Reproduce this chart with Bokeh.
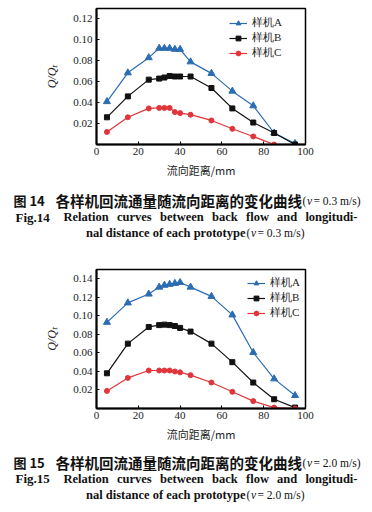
from bokeh.plotting import figure
from bokeh.models import Range1d, FixedTicker, PrintfTickFormatter, Legend, LegendItem, Label
from bokeh.embed import file_html
from bokeh.resources import INLINE

# ---------------- data ----------------
x_pts = [5, 15, 25, 30, 32.5, 35, 37.5, 40, 45, 55, 65, 75, 85, 95]
x_ticks = [0, 20, 40, 60, 80, 100]

a14 = [0.041, 0.0685, 0.083, 0.092, 0.092, 0.092, 0.091, 0.091, 0.079, 0.068, 0.051, 0.037, 0.011, 0.001]
b14 = [0.026, 0.046, 0.062, 0.063, 0.064, 0.0655, 0.065, 0.065, 0.065, 0.054, 0.0345, 0.021, 0.011, 0.000]
c14 = [0.012, 0.026, 0.0345, 0.035, 0.035, 0.035, 0.031, 0.030, 0.0285, 0.023, 0.015, 0.0077, 0.000]
y14_ticks = [0.02, 0.04, 0.06, 0.08, 0.10, 0.12]

a15 = [0.093, 0.114, 0.1235, 0.131, 0.133, 0.134, 0.135, 0.136, 0.131, 0.121, 0.101, 0.0605, 0.032, 0.014]
b15 = [0.038, 0.070, 0.088, 0.090, 0.0905, 0.090, 0.089, 0.087, 0.083, 0.070, 0.050, 0.028, 0.010, 0.001]
c15 = [0.019, 0.033, 0.041, 0.041, 0.041, 0.041, 0.040, 0.039, 0.036, 0.028, 0.018, 0.008, 0.001, 0.000]
y15_ticks = [0.02, 0.04, 0.06, 0.08, 0.10, 0.12, 0.14]

names = ["样机A", "样机B", "样机C"]
x_title = "流向距离/mm"
y_title = "Q/Qₜ"
fig_words = ["Relation", "curves", "between", "back", "flow", "and", "longitudi-"]

BLUE = "#2c6db2"
BLACK = "#111111"
RED = "#e0353b"
SERIF = "Liberation Serif"
CJK = "Noto Sans CJK SC"
W = 372
LEFT = 96
RIGHT = 67
WORD_X = [63, 116.5, 159.5, 211.5, 245.5, 276.5]


def chart(height, top, ymax, yticks, ys, leg_x, leg_y, leg_spacing):
    p = figure(width=W, height=height, output_backend="svg", toolbar_location=None,
               x_range=Range1d(0, 100), y_range=Range1d(0, ymax),
               min_border_left=LEFT, min_border_right=RIGHT, min_border_top=top,
               min_border_bottom=height - top - 139)
    p.xgrid.visible = False
    p.ygrid.visible = False
    p.outline_line_color = "black"
    p.outline_line_width = 1.5
    p.background_fill_color = None
    p.border_fill_color = None
    for ax in (p.xaxis[0], p.yaxis[0]):
        ax.axis_line_width = 2
        ax.axis_line_color = "black"
        ax.major_tick_in = 3
        ax.major_tick_out = 0
        ax.minor_tick_in = 0
        ax.minor_tick_out = 0
        ax.major_tick_line_color = "black"
        ax.major_label_text_font = SERIF
        ax.major_label_text_font_size = "11px"
        ax.major_label_text_color = "#222222"
        ax.axis_label_text_font_style = "normal"
        ax.axis_label_text_color = "#222222"
    p.xaxis.ticker = FixedTicker(ticks=x_ticks)
    p.yaxis.ticker = FixedTicker(ticks=yticks)
    p.yaxis.formatter = PrintfTickFormatter(format="%.2f")
    p.xaxis.major_label_standoff = 3
    p.yaxis.major_label_standoff = 4
    p.xaxis.axis_label = x_title
    p.xaxis.axis_label_text_font = CJK
    p.xaxis.axis_label_text_font_size = "11px"
    p.xaxis.axis_label_standoff = 4
    p.yaxis.axis_label = y_title
    p.yaxis.axis_label_text_font = SERIF
    p.yaxis.axis_label_text_font_style = "italic"
    p.yaxis.axis_label_text_font_size = "12px"
    p.yaxis.axis_label_standoff = 11

    ya, yb, yc = ys
    la = p.line(x_pts[:len(ya)], ya, line_color=BLUE, line_width=1.2)
    ma = p.scatter(x_pts[:len(ya)], ya, marker="triangle", size=7, fill_color=BLUE, line_color=BLUE)
    lb = p.line(x_pts[:len(yb)], yb, line_color=BLACK, line_width=1.2)
    mb = p.scatter(x_pts[:len(yb)], yb, marker="square", size=5, fill_color=BLACK, line_color=BLACK)
    lc = p.line(x_pts[:len(yc)], yc, line_color=RED, line_width=1.2)
    mc = p.scatter(x_pts[:len(yc)], yc, marker="circle", size=5, fill_color=RED, line_color=RED)
    items = [LegendItem(label=names[0], renderers=[la, ma]),
             LegendItem(label=names[1], renderers=[lb, mb]),
             LegendItem(label=names[2], renderers=[lc, mc])]
    leg = Legend(items=items, location=(leg_x, leg_y), padding=0, margin=0,
                 border_line_color=None, background_fill_alpha=0,
                 glyph_width=18, glyph_height=12, label_height=12,
                 spacing=leg_spacing, label_standoff=5,
                 label_text_font=SERIF, label_text_font_size="11px",
                 label_text_color="#222222")
    p.add_layout(leg)
    return p


def caption(height, rows, num, speed):
    c = figure(width=W, height=height, output_backend="svg", toolbar_location=None,
               x_range=Range1d(0, W), y_range=Range1d(height, 0),
               x_axis_location=None, y_axis_location=None, min_border=0)
    c.grid.visible = False
    c.outline_line_color = None
    c.background_fill_color = None
    c.border_fill_color = None
    r1, r2, r3 = rows

    def lab(x, y, t, font, style, size, align="left"):
        c.add_layout(Label(x=x, y=y, text=t, text_font=font, text_font_style=style,
                           text_font_size=size, text_align=align, text_baseline="middle",
                           text_color="#111111"))

    lab(13, r1, "图 " + num, CJK, "bold", "13px")
    lab(55, r1, "各样机回流通量随流向距离的变化曲线", CJK, "bold", "14.5px")
    lab(302, r1, "(", SERIF, "normal", "11.5px")
    lab(306.5, r1, "v", SERIF, "italic", "11.5px")
    lab(313, r1, "= " + speed + " m/s)", SERIF, "normal", "11.5px")
    lab(15, r2, "Fig." + num, SERIF, "bold", "13px")
    for wx, word in zip(WORD_X, fig_words[:-1]):
        lab(wx, r2, word, SERIF, "bold", "12.5px")
    lab(357, r2, fig_words[-1], SERIF, "bold", "12.5px", "right")
    lab(245, r3, "nal distance of each prototype", SERIF, "bold", "12.5px", "right")
    lab(246, r3, "(", SERIF, "normal", "11.5px")
    lab(250.5, r3, "v", SERIF, "italic", "11.5px")
    lab(257, r3, "= " + speed + " m/s)", SERIF, "normal", "11.5px")
    return c


p1 = chart(180, 8, 0.13, y14_ticks, (a14, b14, c14), 133, 84, 0)
cap1 = caption(82, (20, 36.7, 52.7), "14", "0.3")
p2 = chart(185, 7, 0.15, y15_ticks, (a15, b15, c15), 151, 88, 0)
cap2 = caption(65, (15.3, 31.3, 47.3), "15", "2.0")

open("out.html", "w").write(file_html([p1, cap1, p2, cap2], INLINE))
